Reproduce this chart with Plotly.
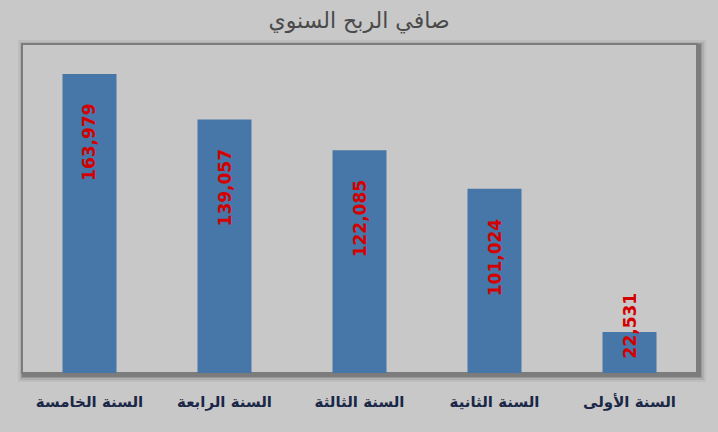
import plotly.graph_objects as go

categories = ["السنة الأولى", "السنة الثانية", "السنة الثالثة", "السنة الرابعة", "السنة الخامسة"]
values = [22531, 101024, 122085, 139057, 163979]
value_labels = ["22,531", "101,024", "122,085", "139,057", "163,979"]
title_text = "صافي الربح السنوي"

W, H = 718, 432
L, T, R, B = 22, 44, 697, 373
pw, ph = R - L, B - T
YMAX = 180400

def px(x):
    return (x - L) / pw

def py(y):
    return 1 - (y - T) / ph

BG = "#c8c8c8"
BAR = "#4677a8"

fig = go.Figure(go.Bar(
    x=categories, y=values, marker=dict(color=BAR, line=dict(width=0)),
    hoverinfo="skip",
))

shapes = []
for (d0, d1, col) in [(-4, 9, "rgba(0,0,0,0.05)"), (-2, 7, "rgba(0,0,0,0.08)"),
                      (-1, 5, "rgba(0,0,0,0.12)"), (0, 4, "rgba(0,0,0,0.18)")]:
    shapes.append(dict(type="rect", xref="paper", yref="paper", layer="below",
                       x0=px(L + d0), x1=px(R + d1), y0=py(B + d1), y1=py(T + d0),
                       fillcolor=col, line=dict(width=0)))
shapes.append(dict(type="rect", xref="paper", yref="paper", layer="below",
                   x0=0, x1=1, y0=0, y1=1, fillcolor=BG,
                   line=dict(color="#7c7c7c", width=2)))

annotations = []
vmax = max(values)
lab_font = dict(family="DejaVu Sans", size=17, color="#d40000", weight="bold")
for c, v, t in zip(categories, values, value_labels):
    if v < 0.3 * vmax:
        annotations.append(dict(x=c, y=v, xref="x", yref="y", text=t, showarrow=False,
                                textangle=-90, yanchor="middle", xanchor="center", yshift=6,
                                font=lab_font))
    else:
        annotations.append(dict(x=c, y=v, xref="x", yref="y", text=t, showarrow=False,
                                textangle=-90, yanchor="top", xanchor="center", yshift=-28,
                                font=lab_font))

fig.update_layout(
    width=W, height=H,
    margin=dict(l=L, r=W - R, t=T, b=H - B, pad=0),
    paper_bgcolor=BG, plot_bgcolor="rgba(0,0,0,0)",
    title=dict(text=title_text, x=0.5, xanchor="center", y=1 - 20 / H, yanchor="middle",
               font=dict(family="DejaVu Sans", size=22, color="#4a4a4a")),
    bargap=0.6,
    showlegend=False,
    shapes=shapes,
    annotations=annotations,
    font=dict(family="DejaVu Sans"),
)
fig.update_xaxes(autorange="reversed", showgrid=False, showline=False, zeroline=False,
                 ticks="", ticklabelstandoff=18,
                 tickfont=dict(family="DejaVu Sans", size=15, color="#1a2747", weight="bold"))
fig.update_yaxes(range=[0, YMAX], showgrid=False, showticklabels=False, zeroline=False,
                 showline=False, ticks="")

fig.write_html("out.html", config={"displayModeBar": False},
               post_script="document.body.style.margin='0';document.body.style.background='#c8c8c8';")
